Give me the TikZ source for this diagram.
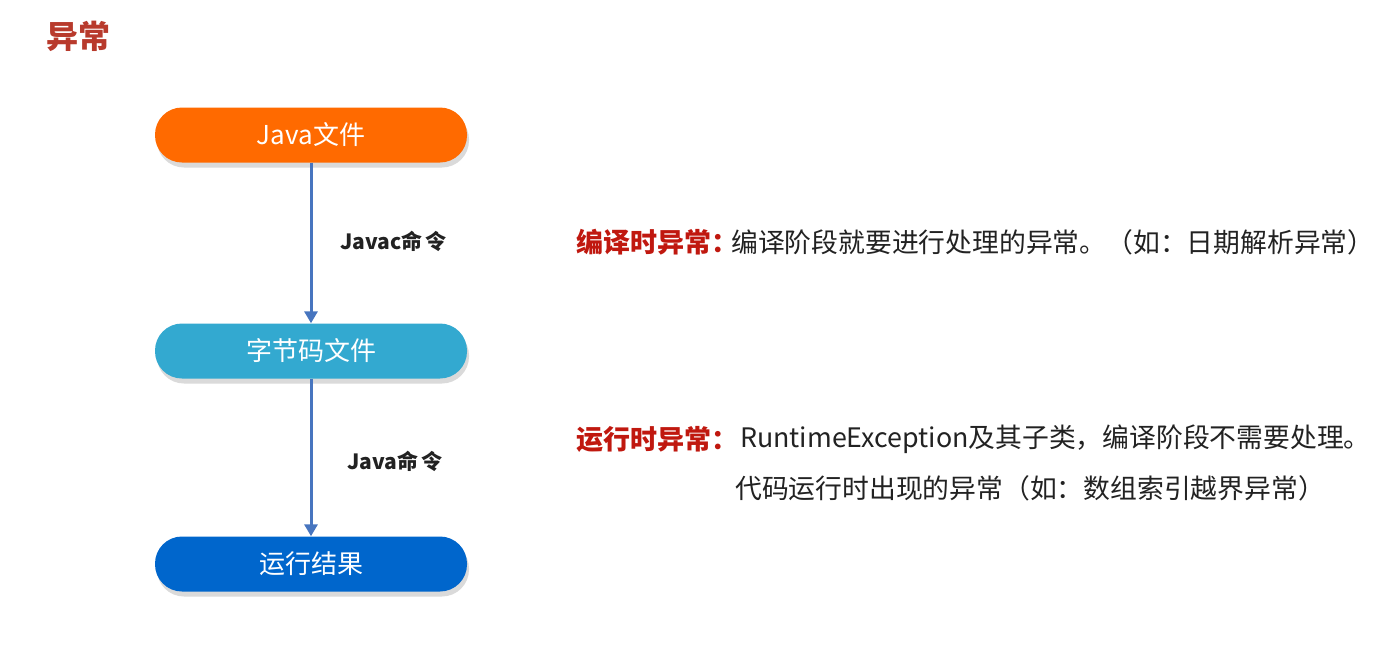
\documentclass[tikz,border=0pt]{standalone}
\usepackage{fontspec}
\setmainfont{Noto Sans CJK SC}
\usetikzlibrary{arrows.meta,shadows}
\definecolor{ctitle}{HTML}{B83A2C}
\definecolor{corange}{HTML}{FF6A00}
\definecolor{clight}{HTML}{33A9D0}
\definecolor{cdark}{HTML}{0066CC}
\definecolor{cline}{HTML}{4775BF}
\definecolor{cshadow}{HTML}{DADADA}
\definecolor{cred}{HTML}{C0180F}
\definecolor{ctext}{HTML}{222222}
\tikzset{
  flowbox/.style={rounded corners=27pt, minimum width=312pt, minimum height=55pt,
    text=white, font=\fontsize{26}{30}\selectfont, inner sep=0pt,
    drop shadow={shadow xshift=2pt, shadow yshift=-5pt, fill=cshadow, opacity=1}},
  flowarrow/.style={draw=cline, line width=3pt, -{Triangle[length=12pt,width=13pt]}},
  cmdlabel/.style={font=\fontsize{21}{24}\selectfont\bfseries, text=ctext, anchor=west, inner sep=0pt},
  redlabel/.style={font=\fontsize{27}{31}\selectfont\bfseries, text=cred, anchor=west, inner sep=0pt},
  bodytext/.style={font=\fontsize{26.8}{31}\selectfont, text=ctext, anchor=west, inner sep=0pt}
}
\begin{document}
\begin{tikzpicture}[x=1pt,y=-1pt]
\useasboundingbox[fill=white] (0,0) rectangle (1398,651);
\node[font=\fontsize{32}{36}\selectfont\bfseries, text=ctitle, anchor=west, inner sep=0pt] (title) at (46,36) {异常};
\node[flowbox, fill=corange] (java) at (311,135) {Java文件};
\node[flowbox, fill=clight] (bytecode) at (311,351) {字节码文件};
\node[flowbox, fill=cdark] (result) at (311,564) {运行结果};
\draw[flowarrow] (java.south) -- (bytecode.north);
\draw[flowarrow] (bytecode.south) -- (result.north);
\node[cmdlabel] (javac) at (340,241) {Javac命\,令};
\node[cmdlabel] (javacmd) at (347,461) {Java命\,令};
\node[redlabel] (compile) at (576,242) {编译时异常：};
\node[bodytext] (compiletxt) at (731,242) {编译阶段就要进行处理的异常。（如：日期解析异常）};
\node[redlabel] (runtime) at (576,439) {运行时异常：};
\node[bodytext] (runtimetxt) at (740,439) {RuntimeException及其子类，编译阶段不需要处理。};
\node[bodytext] (runtimetxt2) at (735,488) {代码运行时出现的异常（如：数组索引越界异常）};
\end{tikzpicture}
\end{document}
